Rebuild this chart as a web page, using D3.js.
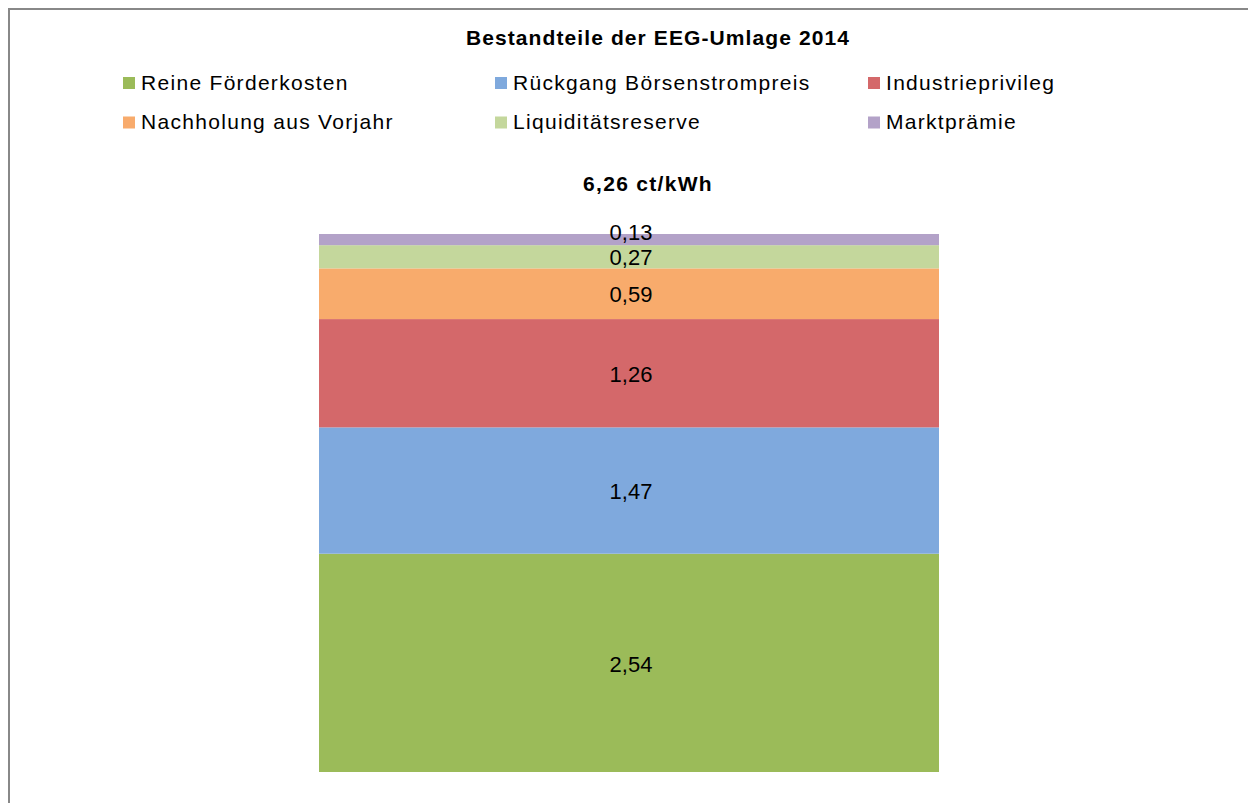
<!DOCTYPE html>
<html><head><meta charset="utf-8">
<script src="https://cdn.jsdelivr.net/npm/d3@7"></script>
<style>body{margin:0;background:#fff}text{font-family:"Liberation Sans",Arial,sans-serif}</style>
</head><body>
<svg id="c" width="1248" height="803"></svg>
<script>
const categories = ["Reine Förderkosten","Rückgang Börsenstrompreis","Industrieprivileg","Nachholung aus Vorjahr","Liquiditätsreserve","Marktprämie"];
const values = [2.54,1.47,1.26,0.59,0.27,0.13];
const colors = ["#9BBB59","#7FA9DD","#D4686A","#F8AB6C","#C4D79C","#B3A2C8"];
const title = "Bestandteile der EEG-Umlage 2014";
const totalLabel = "6,26 ct/kWh";

const svg = d3.select("#c");
svg.append("rect").attr("x",9).attr("y",9).attr("width",1260).attr("height",820)
  .attr("fill","none").attr("stroke","#888").attr("stroke-width",2);

svg.append("text").attr("x",658).attr("y",45).attr("text-anchor","middle")
  .attr("font-size",21).attr("font-weight","bold").attr("letter-spacing",1.1).text(title);

// legend
const legCols=[123,495,868], legRows=[82.5,122];
categories.forEach((c,i)=>{
  const x=legCols[i%3], y=legRows[Math.floor(i/3)];
  svg.append("rect").attr("x",x).attr("y",y-5.5).attr("width",12).attr("height",12).attr("fill",colors[i]);
  svg.append("text").attr("x",x+18).attr("y",y).attr("dy","0.35em").attr("font-size",21)
    .attr("letter-spacing",1.3).text(c);
});

svg.append("text").attr("x",648).attr("y",191).attr("text-anchor","middle")
  .attr("font-size",21).attr("font-weight","bold").attr("letter-spacing",1.3).text(totalLabel);

const total = d3.sum(values);
const y = d3.scaleLinear().domain([0,total]).range([772,234]);
const x = d3.scaleBand().domain(["2014"]).range([319,939]).padding(0);
const stacked=[]; let acc=0;
values.forEach((v,i)=>{stacked.push({i,v,y0:acc,y1:acc+v}); acc+=v;});

svg.selectAll("rect.seg").data(stacked).enter().append("rect").attr("class","seg")
  .attr("x",x("2014")).attr("width",x.bandwidth())
  .attr("y",d=>y(d.y1)).attr("height",d=>y(d.y0)-y(d.y1))
  .attr("fill",d=>colors[d.i]);

// labels; avoid overlap going upward
let prev=Infinity;
const fmt=d3.format(".2f");
stacked.forEach(d=>{
  let cy=(y(d.y0)+y(d.y1))/2;
  if(cy>prev-25) cy=prev-25;
  prev=cy;
  svg.append("text").attr("x",x("2014")+x.bandwidth()/2+2).attr("y",cy+1).attr("dy","0.35em")
    .attr("text-anchor","middle").attr("font-size",22).text(fmt(d.v).replace(".",","));
});
</script>
</body></html>
